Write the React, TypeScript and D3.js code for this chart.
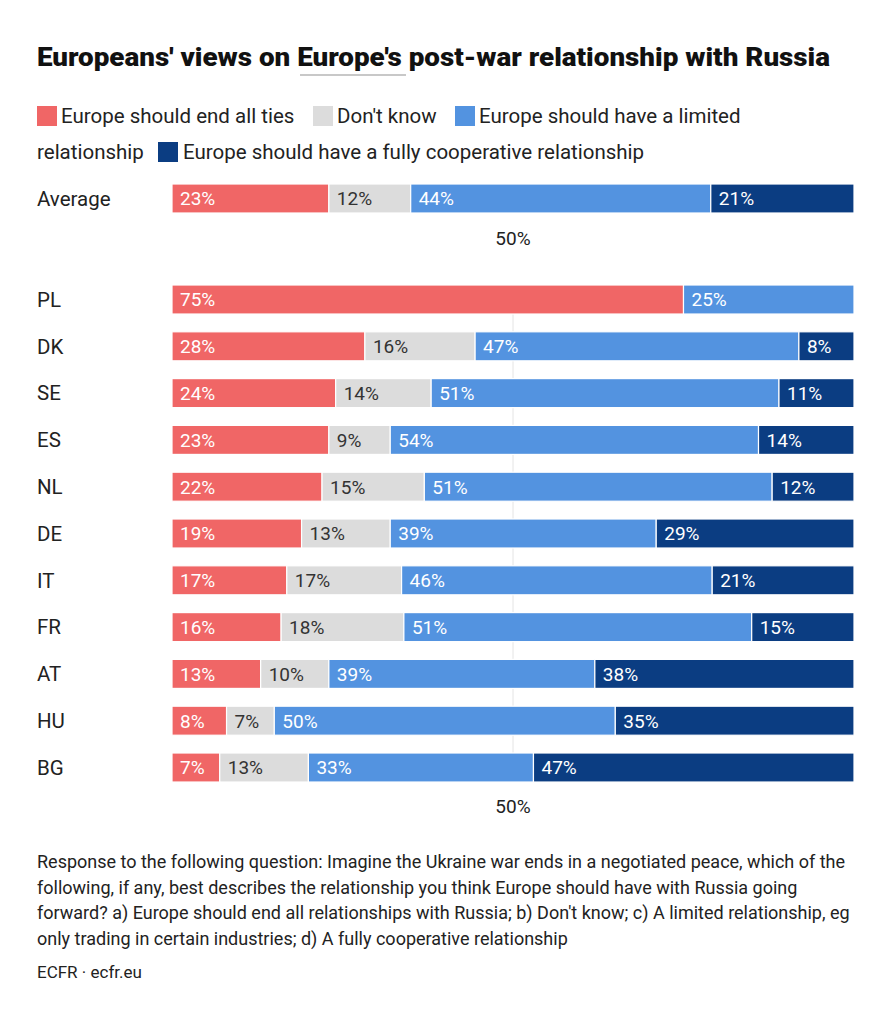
import React from "react";
import * as d3 from "d3";

const seriesNames = [
  "Europe should end all ties",
  "Don't know",
  "Europe should have a limited relationship",
  "Europe should have a fully cooperative relationship",
];
const seriesKeys = ["end", "dk", "limited", "full"];
const seriesColors = ["#f06666", "#dcdcdc", "#5393e0", "#0b3d82"];
const labelColors = ["#ffffff", "#333333", "#ffffff", "#ffffff"];

const averageLabel = "Average";
const averageValues = [23, 12, 44, 21];

const countries = ["PL", "DK", "SE", "ES", "NL", "DE", "IT", "FR", "AT", "HU", "BG"];
const endTies = [75, 28, 24, 23, 22, 19, 17, 16, 13, 8, 7];
const dontKnow = [0, 16, 14, 9, 15, 13, 17, 18, 10, 7, 13];
const limited = [25, 47, 51, 54, 51, 39, 46, 51, 39, 50, 33];
const fullyCoop = [0, 8, 11, 14, 12, 29, 21, 15, 38, 35, 47];

const tickValues = [50];

const title = "Europeans' views on Europe's post-war relationship with Russia";
const noteLines = [
  "Response to the following question: Imagine the Ukraine war ends in a negotiated peace, which of the",
  "following, if any, best describes the relationship you think Europe should have with Russia going",
  "forward? a) Europe should end all relationships with Russia; b) Don't know; c) A limited relationship, eg",
  "only trading in certain industries; d) A fully cooperative relationship",
];
const source = "ECFR · ecfr.eu";

const FONT = "Roboto, 'Open Sans', sans-serif";

type Row = { name: string; end: number; dk: number; limited: number; full: number };

function buildRows(): Row[] {
  return countries.map((c, i) => ({
    name: c,
    end: endTies[i],
    dk: dontKnow[i],
    limited: limited[i],
    full: fullyCoop[i],
  }));
}

function normalise(rows: Row[]) {
  return rows.map((r) => {
    const t = r.end + r.dk + r.limited + r.full;
    return {
      ...r,
      _n: {
        end: (r.end / t) * 100,
        dk: (r.dk / t) * 100,
        limited: (r.limited / t) * 100,
        full: (r.full / t) * 100,
      },
    };
  });
}

export default function App() {
  const W = 892;
  const H = 1024;
  const x = d3.scaleLinear().domain([0, 100]).range([172, 854]);

  const rows = normalise(buildRows());
  const avgRow = normalise([
    {
      name: averageLabel,
      end: averageValues[0],
      dk: averageValues[1],
      limited: averageValues[2],
      full: averageValues[3],
    },
  ]);

  const stack = d3
    .stack<any>()
    .keys(seriesKeys)
    .value((d: any, k: string) => d._n[k]);

  const yc = d3
    .scaleBand<string>()
    .domain(countries)
    .range([285, 285 + 46.8 * (countries.length - 0.38)])
    .paddingInner(0.38)
    .paddingOuter(0);
  const ya = d3.scaleBand<string>().domain([averageLabel]).range([184, 213]);

  const barLabelSize = 19;

  const renderBars = (data: any[], y: d3.ScaleBand<string>, prefix: string) => {
    const layers = stack(data);
    return layers.map((layer, li) => (
      <g key={prefix + li}>
        {layer.map((seg: any, j: number) => {
          const d = data[j];
          const raw = d[seriesKeys[li]];
          if (!raw) return null;
          const x0 = x(seg[0]);
          const x1 = x(seg[1]);
          const yy = y(d.name)!;
          const bh = y.bandwidth();
          return (
            <g key={j}>
              <rect
                x={x0}
                y={yy}
                width={Math.max(0, x1 - x0)}
                height={bh}
                fill={seriesColors[li]}
                stroke="#ffffff"
                strokeWidth={1.2}
              />
              <text
                x={x0 + 8}
                y={yy + bh / 2}
                dy="0.36em"
                fill={labelColors[li]}
                fontSize={barLabelSize}
                fontFamily={FONT}
              >
                {raw}%
              </text>
            </g>
          );
        })}
      </g>
    ));
  };

  const yTop = yc(countries[0])!;
  const yBot = yc(countries[countries.length - 1])! + yc.bandwidth();

  const legendFont = 20.5;
  const legendItems = [
    { i: 0, sx: 37, sy: 106, tx: 61, ty: 116, text: seriesNames[0] },
    { i: 1, sx: 313, sy: 106, tx: 337, ty: 116, text: seriesNames[1] },
    { i: 2, sx: 455, sy: 106, tx: 479, ty: 116, text: "Europe should have a limited" },
    { i: 3, sx: 158, sy: 142, tx: 183, ty: 152, text: seriesNames[3] },
  ];

  return (
    <svg width={W} height={H} style={{ display: "block", position: "absolute", left: 0, top: 0, background: "#fff" }}>
      <rect x={0} y={0} width={W} height={H} fill="#ffffff" />
      <text
        x={37}
        y={66}
        fontFamily={FONT}
        fontWeight={900}
        fontSize={25}
        fill="#111"
        textLength={793}
        lengthAdjust="spacingAndGlyphs"
      >
        {title}
      </text>
      <line x1={300} x2={406} y1={75} y2={75} stroke="#c8c8c8" strokeWidth={2} />

      {legendItems.map((l) => (
        <g key={l.i}>
          <rect x={l.sx} y={l.sy} width={20} height={20} fill={seriesColors[l.i]} />
          <text x={l.tx} y={l.ty} dy="0.36em" fontFamily={FONT} fontSize={legendFont} fill="#222">
            {l.text}
          </text>
        </g>
      ))}
      <text x={37} y={152} dy="0.36em" fontFamily={FONT} fontSize={legendFont} fill="#222">
        relationship
      </text>

      {/* Average */}
      <text
        x={37}
        y={ya(averageLabel)! + ya.bandwidth() / 2}
        dy="0.36em"
        fontFamily={FONT}
        fontSize={20.5}
        fill="#222"
      >
        {averageLabel}
      </text>
      {renderBars(avgRow, ya, "a")}
      {tickValues.map((t) => (
        <text key={"ta" + t} x={x(t)} y={238} dy="0.36em" textAnchor="middle" fontFamily={FONT} fontSize={19} fill="#222">
          {t}%
        </text>
      ))}

      {/* Countries */}
      {tickValues.map((t) => (
        <line key={"g" + t} x1={x(t)} x2={x(t)} y1={yTop} y2={yBot} stroke="#e4e4e4" strokeWidth={1} />
      ))}
      {countries.map((c) => (
        <text
          key={c}
          x={37}
          y={yc(c)! + yc.bandwidth() / 2}
          dy="0.36em"
          fontFamily={FONT}
          fontSize={20.5}
          fill="#222"
        >
          {c}
        </text>
      ))}
      {renderBars(rows, yc, "c")}
      {tickValues.map((t) => (
        <text key={"tc" + t} x={x(t)} y={806} dy="0.36em" textAnchor="middle" fontFamily={FONT} fontSize={19} fill="#222">
          {t}%
        </text>
      ))}

      {noteLines.map((line, i) => (
        <text key={i} x={37} y={862 + i * 25.5} dy="0.36em" fontFamily={FONT} fontSize={18} fill="#222">
          {line}
        </text>
      ))}
      <text x={37} y={972} dy="0.36em" fontFamily={FONT} fontSize={17} fill="#222">
        {source}
      </text>
    </svg>
  );
}
